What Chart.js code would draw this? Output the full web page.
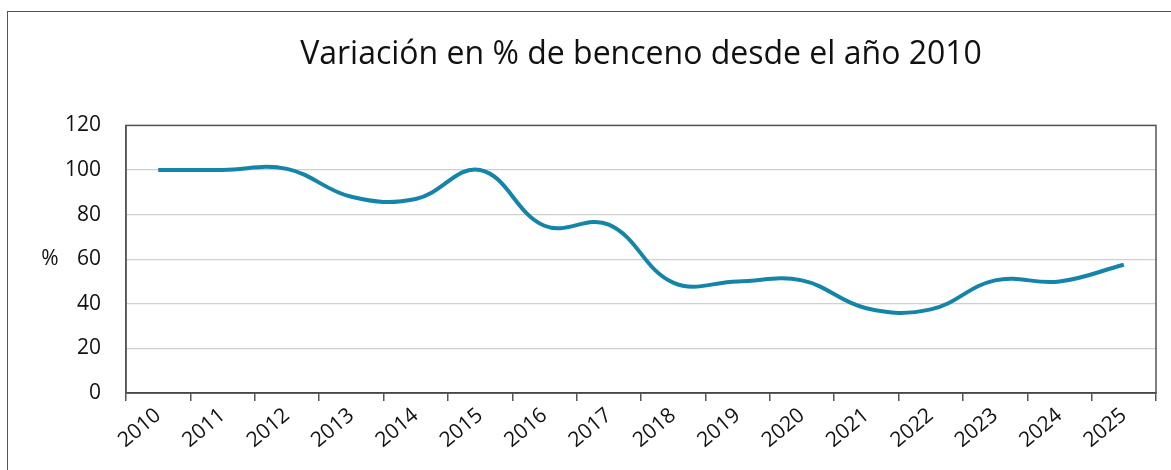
<!DOCTYPE html>
<html>
<head>
<meta charset="utf-8">
<script src="https://cdn.jsdelivr.net/npm/chart.js@4"></script>
<style>
  html, body { margin: 0; padding: 0; background: #fff; overflow: hidden; }
  #wrap { position: relative; width: 1171px; height: 470px; }
  #frame { position: absolute; left: 7px; top: 11px; width: 1200px; height: 500px;
           border-left: 1.5px solid #555; border-top: 1.5px solid #555; pointer-events: none; }
  canvas { position: absolute; left: 0; top: 0; }
</style>
</head>
<body>
<div id="wrap">
  <canvas id="benzeneChart" width="1171" height="470"></canvas>
  <div id="frame"></div>
</div>
<script>
// Data
const years = ['2010','2011','2012','2013','2014','2015','2016','2017',
               '2018','2019','2020','2021','2022','2023','2024','2025'];
const benzenePct = [100, 100, 100.5, 88, 87, 100, 75, 75.5, 49.5, 50, 50.5, 38, 37.5, 50.5, 50, 57.5];
const yTicks = [0, 20, 40, 60, 80, 100, 120];

const fontFamily = '"Open Sans", "Noto Sans", sans-serif';

//Frame around the plot area + the "%" label
const plotFrame = {
    id: 'plotFrame',
    afterDraw(chart) {
        const c = chart.ctx;
        const a = chart.chartArea;
        c.save();
        c.strokeStyle = '#555';
        c.lineWidth = 1.5;
        c.strokeRect(a.left, a.top, a.right - a.left, a.bottom - a.top);
        c.fillStyle = '#111';
        c.font = '21px ' + fontFamily;
        c.textAlign = 'center';
        c.textBaseline = 'middle';
        c.fillText('%', 50, chart.scales.y.getPixelForValue(60));
        c.restore();
    }
};

const ctx = document.getElementById('benzeneChart').getContext('2d');
const chart = new Chart(ctx, {
    type: 'line',
    data: {
        labels: years,
        datasets: [{
            label: 'Benceno',
            data: benzenePct,
            borderColor: '#1485a8',
            borderWidth: 4,
            pointRadius: 0,
            tension: 0.4,
            fill: false
        }]
    },
    options: {
        responsive: false,
        animation: false,
        layout: { padding: { left: 0, right: 15, top: 0, bottom: 0 } },
        plugins: {
            legend: { display: false },
            tooltip: { enabled: false },
            title: {
                display: true,
                fullSize: false,
                text: 'Variación en % de benceno desde el año 2010',
                color: '#111',
                font: { family: fontFamily, size: 32, weight: 'normal' },
                padding: { top: 36, bottom: 51 }
            }
        },
        scales: {
            x: {
                offset: true,
                grid: {
                    offset: true,
                    drawOnChartArea: false,
                    drawTicks: true,
                    tickLength: 8,
                    color: '#555',
                    lineWidth: 1.5
                },
                border: { color: '#222', width: 1.5 },
                ticks: {
                    autoSkip: false,
                    minRotation: 40,
                    maxRotation: 40,
                    color: '#111',
                    padding: 2,
                    font: { family: fontFamily, size: 21 }
                },
                afterFit(scale) { scale.height = 77; }
            },
            y: {
                min: 0,
                max: 120,
                afterBuildTicks(scale) { scale.ticks = yTicks.map(v => ({ value: v })); },
                grid: { color: '#cfcfcf', lineWidth: 1.2, drawTicks: false },
                border: { color: '#555', width: 1.5 },
                ticks: {
                    color: '#111',
                    padding: 25,
                    font: { family: fontFamily, size: 21 }
                },
                afterFit(scale) { scale.width = 126; }
            }
        }
    },
    plugins: [plotFrame]
});
</script>
</body>
</html>
